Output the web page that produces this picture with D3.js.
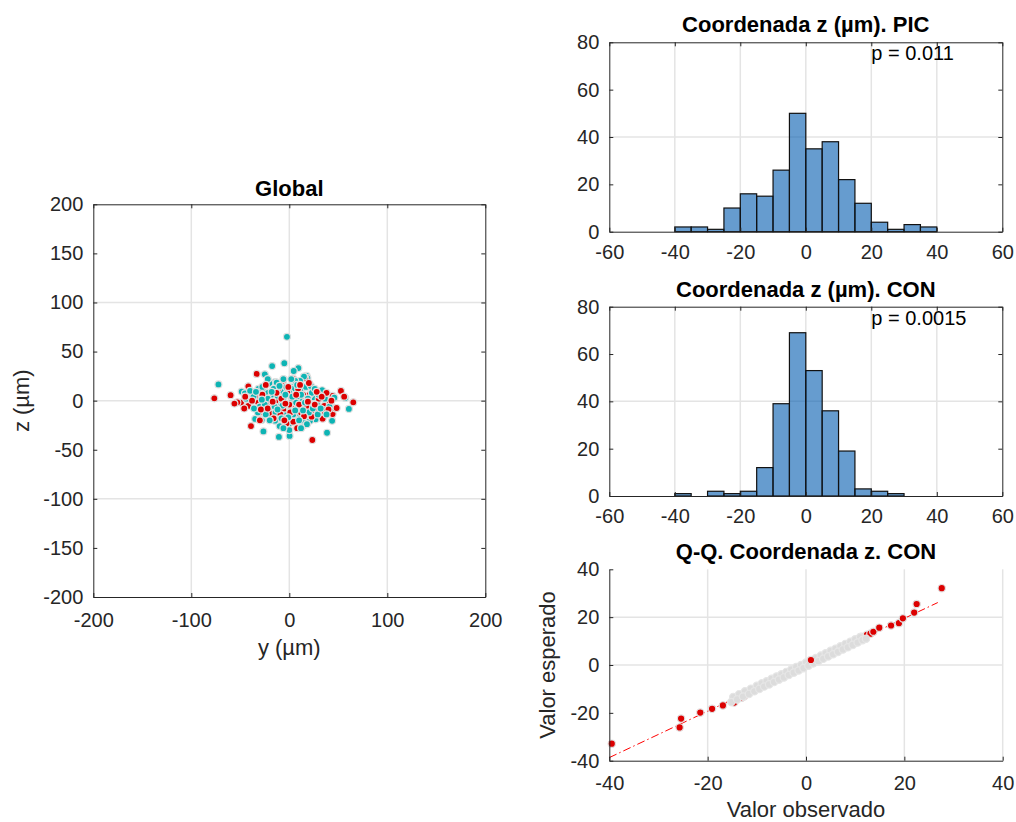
<!DOCTYPE html>
<html>
<head>
<meta charset="utf-8">
<script src="https://cdn.jsdelivr.net/npm/d3@7"></script>
<style>
  body { margin: 0; background: #fff; }
  svg { display: block; }
</style>
</head>
<body>
<svg id="chart" width="1016" height="822"></svg>
<script>
// ---------- data ----------
// Global scatter: [y (µm), z (µm)]
const picPoints = [
  [-2.4,65],[-72.3,16.5],[-17.5,35.2],[-5.1,38.1],[9.3,33.2],[4.5,30.2],[-25,26.8],[-34.8,-18.6],
  [-26.4,-31.3],[-10.6,-36.9],[0.3,-35.9],[38.5,-32.7],[60.8,-8.4],[57.1,2.7],[43.7,-20.5],[33.5,10.6],
  [14.3,-25],[-9.9,-25.9],[-0.4,-23.8],[-24.1,8.5],[-26.7,12.8],[-14.3,19],[3.4,14.3],[13.6,12.6],
  [17.7,25.2],[18.5,23],[6.8,10.9],[12.6,0.7],[24.5,3.4],[19.4,-16.3],[7.5,-19.7],[-17,4.1],
  [-9.5,10.2],[-19.7,-8.8],[-2.7,-9.5],[-28.2,-19.7],[-48.6,9.2],[-45.2,7.5],[34.7,-9.5],[26.9,-19],
  [21.1,-20.4],[-14.6,-20.4],[-12.9,18.4],[-20.4,17.7],[-8.5,9.2],[5.1,12.6],[11.9,12.6],[36.4,2],
  [10.9,-13.9],[17.7,-7.8],[-2,-4.4],[1.7,-9.5],[15,24.5],[-30,-6.1],[-19,-9.5],[-31.5,12],
  [-36.5,4],[-40,10],[-27.5,14],[-22,2],[-11,-1.5],[-6,3],[0,8],[8,4],[2,-2],[9,-6],[-4,-15],
  [-14,-12],[4,-14],[14,-20],[20,-12],[28,-3],[23,8],[17,14],[11,20],[-6,22],[-22,22],[-32,-12],
  [-24,-14],[29,-14],[41,-6],[46,3],[-8,-18],[24,-8],[-36,-8],[6,20],[-16,12],[12,6],[30,6],[-44,2],
  [-12,5],[-3,14],[7,-2],[16,-2],[-25,-4],[-7,-5],[3,4],[19,2],[-15,-6],[10,-20],[-1,-17],
  [-18,9],[8,16],[22,15],[-28,1],[32,-8],[-10,15],[2,22],[-20,-20],[14,-10],[-4,6],[26,12],
  [-34,9],[6,-10],[-12,-9],[18,-24],[0,-30],[-6,-28],[12,-28],[38,-14]
];
const conPoints = [
  [-76.5,2.4],[-59.9,5.6],[-33.3,27.2],[-41.8,14.6],[-43.5,3.7],[-41.8,-5.4],[-49.3,-2],[-53,-1.7],
  [-36.7,6.5],[-32,-1.4],[-27.2,-11.9],[-19.4,3.4],[-19.7,-4.8],[-11.6,-4.1],[-6.8,18.7],[4.1,22.1],
  [2.4,2.4],[5.4,-4.8],[13.3,0.7],[16.3,22.8],[20.7,6.1],[22.4,-19],[23.5,-40.1],[-39.1,-25.9],
  [24.5,10.9],[29.6,-9.5],[35.7,-5.4],[36.4,-11.6],[41.5,-2],[44.2,4.8],[44.2,-13.6],[46.6,-7.8],
  [52.7,9.9],[65.3,-1.7],[22.8,-10.2],[-2.7,-23.1],[4.1,-21.4],[-23.1,-2.7],[-35,4.1],[-11.2,12.6],
  [17.7,-6.8],[5.8,-7.8],[-6.1,-9.5],[-19.7,-12.9],[34,-18.4],[48.3,-7.5],[22.8,-16.3],[-27.5,6],
  [-14,0],[-2,8],[9,12],[12,-12],[-9,-14],[0,-4],[30,2],[-30,-20],[-16,-18],[8,-28],[-24,16],
  [14,6],[38,8],[56,4],[-46,-8],[-56,-3],
  [-8,2],[1,-12],[10,-4],[26,-4],[-22,-8],[-4,-3],[15,-16],[-13,8],[33,4],[40,-9],[-38,0],
  [7,6],[-29,-9],[19,-1],[-1,14],[11,16],[-17,-1],[28,9],[-5,-20],[43,0],[-45,4],[20,18]
];

// Histograms of z (µm), 5 µm bins starting at -40
const binEdges = [-40,-35,-30,-25,-20,-15,-10,-5,0,5,10,15,20,25,30,35,40,45,50,55,60];
const picCounts = [2,2,1,10,16,15,26,50,35,38,22,12,4,1,3,2,0,0,0,0];
const conCounts = [1,0,2,1,2,12,39,69,53,36,19,3,2,1];
const picP = "p = 0.011";
const conP = "p = 0.0015";

// Q-Q plot of CON z: [observed, expected]
const qqTail = [
  [-39.5,-32.9],[-25.7,-26.1],[-25.4,-22.4],[-21.5,-19.9],[-19.1,-18.3],[-16.9,-16.9],[-14.6,-15.7],
  [-13.1,-13.7],[-12.6,-13.1],[-10.5,-10.6],[-8.3,-7.8],[8.9,8.8],[10.2,9.5],[11.3,11.8],
  [12.4,12.6],[13.1,13.1],[13.7,13.9],[14.9,15.6],[17.3,16.5],[18.9,17.5],[19.7,19.5],[22.0,21.9],
  [22.5,25.5],[27.6,32.1]
];
const qqCore = [
  [-14.8,-13.4],[-13.6,-12.2],[-12.4,-11.0],[-11.2,-9.9],[-10.0,-8.7],[-9.0,-7.7],[-8.0,-6.8],
  [-7.0,-5.8],[-6.0,-4.8],[-5.0,-3.9],[-4.0,-2.9],[-3.0,-1.9],[-2.0,-0.9],[-1.0,0.0],[0.0,1.0],
  [2.0,2.9],[3.0,3.9],[4.0,4.9],[5.0,5.9],[6.0,6.8],[7.0,7.8],[8.0,8.8],[9.0,9.7],[10.0,10.7],
  [11.0,11.7],
  [-15.2,-15.5],[-14.0,-14.4],[-12.8,-13.2],[-11.6,-12.1],[-10.5,-11.0],[-9.5,-10.0],[-8.5,-9.0],
  [-7.5,-8.1],[-6.5,-7.1],[-5.5,-6.1],[-4.5,-5.2],[-3.5,-4.2],[-2.5,-3.2],[-1.5,-2.3],[-0.5,-1.3],
  [0.5,-0.3],[1.5,0.7],[2.5,1.6],[3.5,2.6],[4.5,3.6],[5.5,4.5],[6.5,5.5],[7.5,6.5],[8.5,7.4],
  [9.5,8.4],[10.5,9.4],[11.5,10.4],[12.2,11.0]
];
// a CON value plotted above the central band
const qqMid = [[1.0,2.1]];
const qqLine = [[-40,-38.7],[26.8,26.1]];

// Tick values and visible grid lines
const scatterTicksX = [-200,-100,0,100,200];
const scatterTicksY = [-200,-150,-100,-50,0,50,100,150,200];
const scatterGrid = [-100,0,100];
const histTicksX = [-60,-40,-20,0,20,40,60];
const histTicksY = [0,20,40,60,80];
const histGridX = [-40,-20,0,20,40];
const histGridY = [40];
const qqTicks = [-40,-20,0,20,40];
const qqGridX = [-20,0,20,40];
const qqGridY = [0,20];

// ---------- drawing ----------
const FONT = '"Liberation Sans", Arial, Helvetica, sans-serif';
const INK = "#262626";
const GRID = "#e4e4e4";
const PIC_COLOR = "#0db4b4";
const CON_COLOR = "#dc0000";
const svg = d3.select("#chart").attr("font-family", FONT);

function drawGrid(g, x, y, gx, gy) {
  const [yb, yt] = y.range(), [xl, xr] = x.range();
  g.append("g").selectAll("line").data(gx).join("line")
    .attr("x1", d => x(d)).attr("x2", d => x(d)).attr("y1", yb).attr("y2", yt)
    .attr("stroke", GRID).attr("stroke-width", 1.5);
  g.append("g").selectAll("line").data(gy).join("line")
    .attr("y1", d => y(d)).attr("y2", d => y(d)).attr("x1", xl).attr("x2", xr)
    .attr("stroke", GRID).attr("stroke-width", 1.5);
}

function styleAxis(sel) {
  sel.attr("font-family", FONT).attr("font-size", 20);
  sel.select(".domain").attr("stroke", INK).attr("stroke-width", 1);
  sel.selectAll(".tick line").attr("stroke", INK);
  sel.selectAll(".tick text").attr("fill", INK);
}

function drawAxes(g, x, y, o) {
  const [yb, yt] = y.range(), [xl, xr] = x.range();
  const fmt = d => String(d);
  g.append("g").attr("transform", `translate(0,${yb})`)
    .call(d3.axisBottom(x).tickValues(o.xTicks).tickSize(-4).tickSizeOuter(0)
      .tickPadding(o.padX).tickFormat(fmt))
    .call(styleAxis);
  g.append("g").attr("transform", `translate(${xl},0)`)
    .call(d3.axisLeft(y).tickValues(o.yTicks).tickSize(-4).tickSizeOuter(0)
      .tickPadding(10).tickFormat(fmt))
    .call(styleAxis);
  if (o.box) {
    g.append("g").attr("transform", `translate(0,${yt})`)
      .call(d3.axisTop(x).tickValues(o.xTicks).tickSize(-4).tickSizeOuter(0).tickFormat(""))
      .call(styleAxis);
    g.append("g").attr("transform", `translate(${xr},0)`)
      .call(d3.axisRight(y).tickValues(o.yTicks).tickSize(-4).tickSizeOuter(0).tickFormat(""))
      .call(styleAxis);
  }
}

function title(text, x, y) {
  svg.append("text").attr("x", x).attr("y", y).attr("text-anchor", "middle")
    .attr("font-size", 22).attr("font-weight", "bold").attr("fill", "#000").text(text);
}

function markers(g, pts, x, y, fill, stroke, r) {
  g.append("g").selectAll("circle").data(pts).join("circle")
    .attr("cx", d => x(d[0])).attr("cy", d => y(d[1])).attr("r", r)
    .attr("fill", fill).attr("stroke", stroke).attr("stroke-width", 1.2);
}

// Global scatter: the two groups are drawn evenly interleaved so neither hides the other
{
  const x = d3.scaleLinear().domain([-200, 200]).range([93.3, 485.3]);
  const y = d3.scaleLinear().domain([-200, 200]).range([597, 204.3]);
  const g = svg.append("g");
  drawGrid(g, x, y, scatterGrid, scatterGrid);
  const mixed = [
    ...picPoints.map((p, i) => ({ p, c: PIC_COLOR, k: i / picPoints.length })),
    ...conPoints.map((p, i) => ({ p, c: CON_COLOR, k: (i + 0.5) / conPoints.length }))
  ].sort((a, b) => a.k - b.k);
  g.append("g").selectAll("circle").data(mixed).join("circle")
    .attr("cx", d => x(d.p[0])).attr("cy", d => y(d.p[1])).attr("r", 3.5)
    .attr("fill", d => d.c).attr("stroke", "#e0e0e0").attr("stroke-width", 1.2);
  drawAxes(g, x, y, { xTicks: scatterTicksX, yTicks: scatterTicksY, padX: 16, box: true });
  title("Global", 289.3, 196);
  svg.append("text").attr("x", 289.3).attr("y", 655).attr("text-anchor", "middle")
    .attr("font-size", 22).attr("fill", INK).text("y (µm)");
  svg.append("text").attr("transform", "translate(29,400.7) rotate(-90)").attr("text-anchor", "middle")
    .attr("font-size", 22).attr("fill", INK).text("z (µm)");
}

// Histograms
function histogram(counts, top, bottom, label, pText) {
  const x = d3.scaleLinear().domain([-60, 60]).range([609.3, 1002.3]);
  const y = d3.scaleLinear().domain([0, 80]).range([bottom, top]);
  const g = svg.append("g");
  drawGrid(g, x, y, histGridX, histGridY);
  const bins = counts.map((c, i) => ({ x0: binEdges[i], x1: binEdges[i + 1], c }));
  g.append("g").selectAll("rect").data(bins).join("rect")
    .attr("x", d => x(d.x0)).attr("width", d => x(d.x1) - x(d.x0))
    .attr("y", d => y(d.c)).attr("height", d => y(0) - y(d.c))
    .attr("fill", "rgb(0,90,175)").attr("fill-opacity", 0.6)
    .attr("stroke", "#111").attr("stroke-width", 1.2);
  drawAxes(g, x, y, { xTicks: histTicksX, yTicks: histTicksY, padX: 13, box: true });
  title(label, 805.8, top - 10);
  g.append("text").attr("x", x(20)).attr("y", top + 18).attr("font-size", 20)
    .attr("fill", "#000").text(pText);
}
histogram(picCounts, 42.3, 231.7, "Coordenada z (µm). PIC", picP);
histogram(conCounts, 306.7, 496, "Coordenada z (µm). CON", conP);

// Q-Q plot
{
  const x = d3.scaleLinear().domain([-40, 40]).range([609.3, 1002.7]);
  const y = d3.scaleLinear().domain([-40, 40]).range([760.7, 569.3]);
  const g = svg.append("g");
  drawGrid(g, x, y, qqGridX, qqGridY);
  g.append("path").datum(qqLine)
    .attr("d", d3.line().x(d => x(d[0])).y(d => y(d[1])))
    .attr("fill", "none").attr("stroke", "#ff0000").attr("stroke-width", 1)
    .attr("stroke-dasharray", "8,3,1.5,3");
  markers(g, qqTail, x, y, CON_COLOR, "#e2e2e2", 3.7);
  markers(g, qqCore, x, y, "#dcdcdc", "#e6e6e6", 3.7);
  markers(g, qqMid, x, y, CON_COLOR, "#e2e2e2", 3.7);
  drawAxes(g, x, y, { xTicks: qqTicks, yTicks: qqTicks, padX: 15, box: false });
  title("Q-Q. Coordenada z. CON", 806, 559);
  svg.append("text").attr("x", 806).attr("y", 817).attr("text-anchor", "middle")
    .attr("font-size", 22).attr("fill", INK).text("Valor observado");
  svg.append("text").attr("transform", "translate(555,665) rotate(-90)").attr("text-anchor", "middle")
    .attr("font-size", 22).attr("fill", INK).text("Valor esperado");
}
</script>
</body>
</html>
